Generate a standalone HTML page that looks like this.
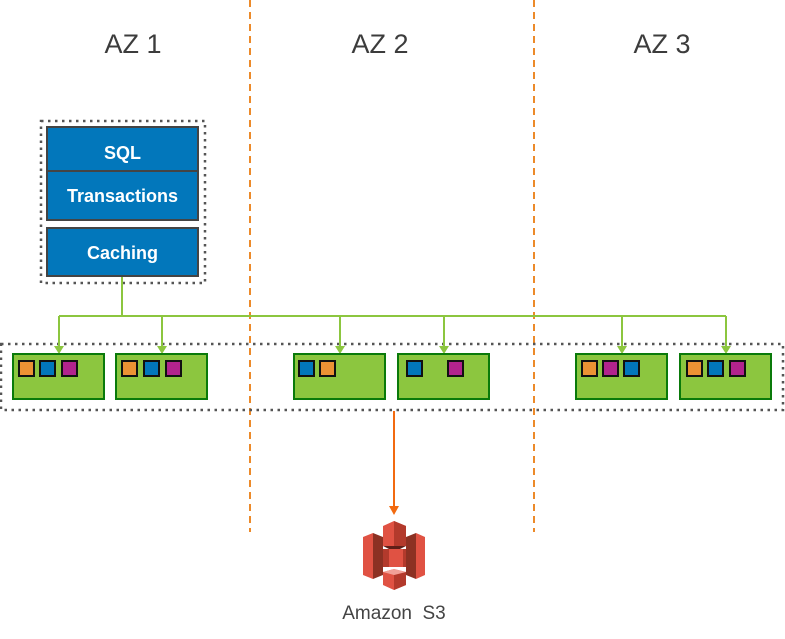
<!DOCTYPE html>
<html><head><style>
body{margin:0;width:785px;height:639px;background:#fff;font-family:"Liberation Sans",sans-serif;position:relative;overflow:hidden}
.t{position:absolute;font-size:27px;color:#3c3c3c;transform:translateX(-50%);white-space:nowrap}
.b{position:absolute;background:#0277bb;border:2px solid #444;box-sizing:border-box;color:#fff;font-weight:bold;font-size:18px;text-align:center}
.g{position:absolute;top:353px;height:47px;width:93px;background:#8cc63f;border:2px solid #0a7a0a;box-sizing:border-box}
.s{position:absolute;top:5px;width:17px;height:17px;border:2px solid #111;box-sizing:border-box}
.o{background:#ec9234}.u{background:#0277bb}.m{background:#b2238d}
</style></head><body>
<div class="t" style="left:133px;top:29px">AZ 1</div>
<div class="t" style="left:380px;top:29px">AZ 2</div>
<div class="t" style="left:662px;top:29px">AZ 3</div>
<svg width="785" height="639" style="position:absolute;left:0;top:0">
<g stroke="#ec8a2a" stroke-width="2" stroke-dasharray="7,5"><line x1="250" y1="0" x2="250" y2="532"/><line x1="534" y1="0" x2="534" y2="532"/></g>
<g fill="none" stroke="#555" stroke-width="2.5" stroke-dasharray="2.5,4.5"><rect x="41" y="121" width="164" height="162"/><rect x="1" y="344" width="782" height="66"/></g>
<g stroke="#8cc63f" stroke-width="2" fill="none"><polyline points="122,276 122,316"/><line x1="59" y1="316" x2="726" y2="316"/>
<line x1="59" y1="316" x2="59" y2="348"/><line x1="162" y1="316" x2="162" y2="348"/><line x1="340" y1="316" x2="340" y2="348"/><line x1="444" y1="316" x2="444" y2="348"/><line x1="622" y1="316" x2="622" y2="348"/><line x1="726" y1="316" x2="726" y2="348"/></g>
<g fill="#8cc63f"><path d="M54,346h10l-5,8z"/><path d="M157,346h10l-5,8z"/><path d="M335,346h10l-5,8z"/><path d="M439,346h10l-5,8z"/><path d="M617,346h10l-5,8z"/><path d="M721,346h10l-5,8z"/></g>
<line x1="394" y1="411" x2="394" y2="508" stroke="#f26a10" stroke-width="2"/><path d="M389,506h10l-5,9z" fill="#f26a10"/>
<g>
<path d="M363,537l10,-4v46l-10,-4z" fill="#e05243"/><path d="M373,533l10,4v38l-10,4z" fill="#8c3123"/>
<path d="M425,537l-9,-4v46l9,-4z" fill="#e05243"/><path d="M416,533l-10,4v38l10,4z" fill="#8c3123"/>
<path d="M383,526l11,-5l12,5v20h-23z" fill="#e05243"/><path d="M394,521l12,5v20h-12z" fill="#b33a2c"/>
<path d="M383,546h23l-6,3h-11z" fill="#5e1f18"/>
<path d="M383,549h23v18h-23z" fill="#b33a2c"/><path d="M389,549h14v18h-14z" fill="#e05243"/>
<path d="M383,572l11,-3l12,3v13l-12,5l-11,-5z" fill="#e05243"/><path d="M394,575l12,-3v13l-12,5z" fill="#b33a2c"/><path d="M383,572l11,-3l12,3l-12,3z" fill="#f1a097"/>
</g>
</svg>
<div class="b" style="left:46px;top:126px;width:153px;height:95px"></div>
<div class="b" style="left:46px;top:126px;width:153px;height:46px;line-height:50px">SQL</div>
<div class="b" style="left:46px;top:170px;width:153px;height:51px;line-height:49px">Transactions</div>
<div class="b" style="left:46px;top:227px;width:153px;height:50px;line-height:48px">Caching</div>
<div class="g" style="left:12px"><div class="s o" style="left:4px"></div><div class="s u" style="left:25px"></div><div class="s m" style="left:47px"></div></div>
<div class="g" style="left:115px"><div class="s o" style="left:4px"></div><div class="s u" style="left:26px"></div><div class="s m" style="left:48px"></div></div>
<div class="g" style="left:293px"><div class="s u" style="left:3px"></div><div class="s o" style="left:24px"></div></div>
<div class="g" style="left:397px"><div class="s u" style="left:7px"></div><div class="s m" style="left:48px"></div></div>
<div class="g" style="left:575px"><div class="s o" style="left:4px"></div><div class="s m" style="left:25px"></div><div class="s u" style="left:46px"></div></div>
<div class="g" style="left:679px"><div class="s o" style="left:5px"></div><div class="s u" style="left:26px"></div><div class="s m" style="left:48px"></div></div>
<div style="position:absolute;left:394px;top:603px;transform:translateX(-50%);font-size:19px;color:#444;white-space:nowrap">Amazon&nbsp; S3</div>
</body></html>
